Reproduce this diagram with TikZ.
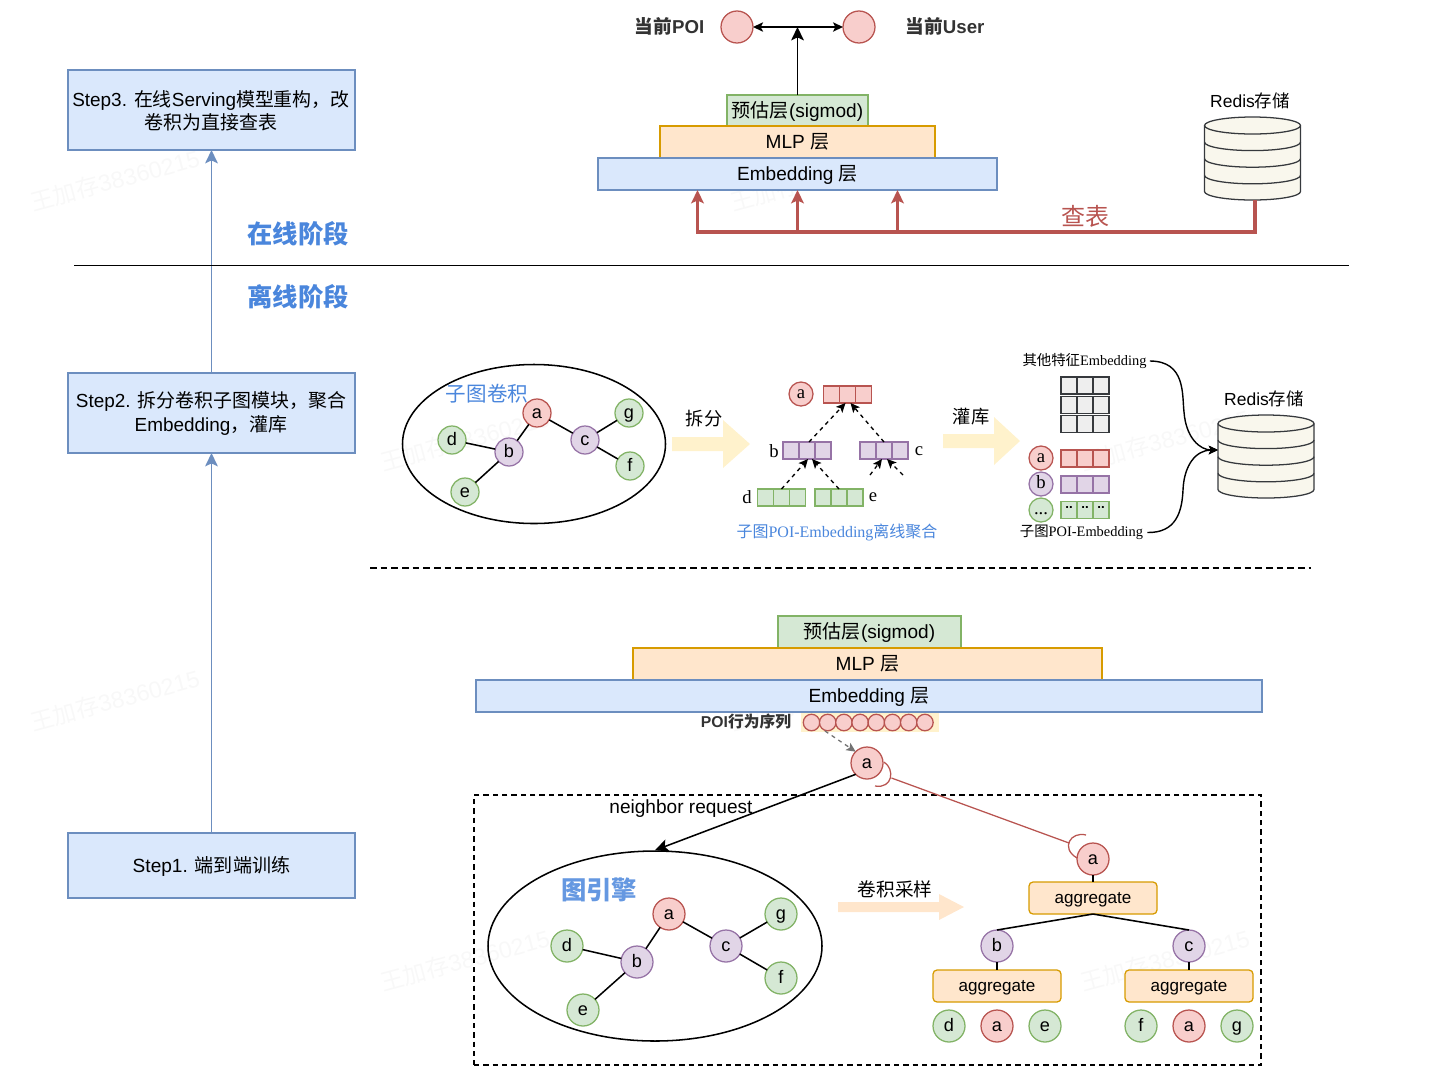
\documentclass[tikz,border=0pt]{standalone}
\usepackage{fontspec}
\usetikzlibrary{arrows.meta,calc,shapes.geometric}
\setmainfont{Liberation Sans}
\newfontfamily\cjkf{Noto Sans CJK SC}
\newfontfamily\lserif{Liberation Serif}
\newcommand\cn[1]{{\cjkf #1}}
\definecolor{bluef}{HTML}{DAE8FC}\definecolor{bluel}{HTML}{6C8EBF}
\definecolor{greenf}{HTML}{D5E8D4}\definecolor{greenl}{HTML}{82B366}
\definecolor{orangef}{HTML}{FFE6CC}\definecolor{orangel}{HTML}{D79B00}
\definecolor{redf}{HTML}{F8CECC}\definecolor{redl}{HTML}{B85450}
\definecolor{purpf}{HTML}{E1D5E7}\definecolor{purpl}{HTML}{9673A6}
\definecolor{yelf}{HTML}{FFF2CC}
\definecolor{dbf}{HTML}{F9F7ED}\definecolor{dbl}{HTML}{36393D}
\definecolor{greyf}{HTML}{EEEEEE}
\definecolor{headblue}{HTML}{4A86DC}
\definecolor{wm}{HTML}{F8F8F8}
\definecolor{darktxt}{HTML}{333333}
\tikzset{
 wh/.style 2 args={minimum width=#1*0.75pt,minimum height=#2*0.75pt},
 lw/.style={line width=0.95pt},
 boxed/.style={rectangle,draw,lw,inner sep=0pt,outer sep=0pt,align=center,text height=12.2pt,text depth=2.4pt,font=\fontsize{14.3}{17.3}\selectfont},
 bluebox/.style={boxed,draw=bluel,fill=bluef},
 greenbox/.style={boxed,draw=greenl,fill=greenf},
 orangebox/.style={boxed,draw=orangel,fill=orangef},
 aggbox/.style={orangebox,rounded corners=3pt,text height=10.5pt,font=\fontsize{12.8}{15}\selectfont},
 dot/.style={circle,draw,lw,inner sep=0pt,outer sep=0pt,minimum size=#1*0.75pt,text height=10.4pt,text depth=2pt,font=\fontsize{13.6}{15}\selectfont},
 dot/.default=28,
 reddot/.style={dot=#1,draw=redl,fill=redf},
 greendot/.style={dot=#1,draw=greenl,fill=greenf},
 purpdot/.style={dot=#1,draw=purpl,fill=purpf},
 reddot/.default=32,greendot/.default=32,purpdot/.default=32,
 tip/.style={-{Stealth[length=10pt,width=9.5pt,inset=2.2pt]}},
 sharp/.style={{Stealth[length=7.5pt,width=7pt,inset=1.7pt]}-{Stealth[length=7.5pt,width=7pt,inset=1.7pt]}},
 smalltip/.style={-{Stealth[length=7pt,width=6.5pt,inset=1.6pt]}},
 edge/.style={line width=1.15pt,black},
 lab/.style={inner sep=0pt,outer sep=0pt,align=center,font=\fontsize{13.1}{17.3}\selectfont},
 bigtxt/.style={lab,font=\fontsize{14.2}{17.3}\selectfont},
 head/.style={inner sep=0pt,font=\fontsize{19}{22}\selectfont\bfseries,text=headblue},
 slab/.style={inner sep=0pt,font=\fontsize{10.8}{12}\selectfont\lserif},
 let/.style={inner sep=0pt,font=\fontsize{14}{16}\selectfont\lserif},
 wmname/.style={inner sep=0pt,text=wm,rotate=15,font=\fontsize{17.5}{20}\selectfont},
 serifdot/.style={text height=8pt,text depth=1pt,font=\fontsize{14}{16}\selectfont\lserif},
}
\newcommand\cellbar[5]{%
 \node[rectangle,draw=#5,fill=#4,lw,wh={48}{17},inner sep=0pt,outer sep=0pt] (#1) at (#2,#3) {};
 \draw[#5,lw] (#2-8,#3-8.5) -- (#2-8,#3+8.5) (#2+8,#3-8.5) -- (#2+8,#3+8.5);}
\newcommand\dbshape[3]{% name, cx, top
 \node[inner sep=0pt,outer sep=0pt,wh={96}{83}] (#1) at (#2,#3+41.5) {};
 \draw[dbl,fill=dbf,lw] (#2-48,#3+8.5) arc[start angle=180,end angle=0,x radius=48*0.75pt,y radius=8.5*0.75pt]
   -- (#2+48,#3+74.5) arc[start angle=0,end angle=-180,x radius=48*0.75pt,y radius=8.5*0.75pt] -- cycle;
 \foreach \yy in {8.5,25.1,41.7,58.3}{
 \draw[dbl,lw] (#2-48,#3+\yy) arc[start angle=180,end angle=360,x radius=48*0.75pt,y radius=8.5*0.75pt];}
}
\begin{document}
\begin{tikzpicture}[x=0.75pt,y=-0.75pt]
\useasboundingbox (0,0) rectangle (1434,1090);
% watermarks
\foreach \wx/\wy in {115/180,115/700,465/440,465/960,815/180,815/700,1165/440,1165/960}
  \node[wmname] (w\wx\wy) at (\wx,\wy) {\cn{王加存}38360215};
% left steps
\node[bluebox,wh={287}{80}] (s3) at (211.5,110) {};
\node[bigtxt] (s3t) at (211,110.5) {Step3. \cn{在线}Serving\cn{模型重构，改}\\\cn{卷积为直接查表}};
\node[bluebox,wh={287}{80}] (s2) at (211.5,413) {};
\node[bigtxt] (s2t) at (211,413.5) {Step2. \cn{拆分卷积子图模块，聚合}\\Embedding\cn{，灌库}};
\node[bluebox,wh={287}{65}] (s1) at (211.5,865.5) {Step1. \cn{端到端训练}};
\draw[bluel,line width=1.3pt,tip] (s1.north) -- (s2.south);
\draw[bluel,line width=1.3pt,tip] (s2.north) -- (s3.south);
% phase line
\coordinate (pl) at (74,265.5); \coordinate (pr) at (1349,265.5);
\draw[black,line width=1.3pt] (pl) -- (pr);
\node[head] (h1) at (298,234) {\cn{在线阶段}};
\node[head] (h2) at (298,297) {\cn{离线阶段}};
% top stack
\node[greenbox,wh={141}{31}] (p1) at (797.5,110.5) {\cn{预估层}(sigmod)};
\node[orangebox,wh={275}{32}] (m1) at (797.5,142) {MLP \cn{层}};
\node[bluebox,wh={399}{32}] (e1) at (797.5,174) {Embedding \cn{层}};
\node[reddot] (poi) at (737,27) {};
\node[reddot] (usr) at (859,27) {};
\node[inner sep=0pt,text=darktxt,font=\fontsize{14}{16}\selectfont\bfseries] (tp) at (669.5,26.5) {\cn{当前}POI};
\node[inner sep=0pt,text=darktxt,font=\fontsize{14}{16}\selectfont\bfseries] (tu) at (945,26.5) {\cn{当前}User};
\coordinate (pm) at (797.5,27);
\draw[black,line width=1.15pt,sharp] (poi.east) -- (usr.west);
\draw[black,line width=1.3pt,tip] (p1.north) -- (pm);
% redis top
\dbshape{dbA}{1252.5}{117}
\node[lab] (ra) at (1250,101) {Redis\cn{存储}};
\coordinate (rb) at (1255,200);
\coordinate (rc) at (1255,232);
\coordinate (e1a) at (697.5,190); \coordinate (e1c) at (897.5,190);
\draw[redl,line width=2.4pt,tip] (rb) -- (rc) -| (e1a);
\draw[redl,line width=2.4pt,tip] (rc) -| (e1.south);
\draw[redl,line width=2.4pt,tip] (rc) -| (e1c);
\node[inner sep=0pt,text=redl,font=\fontsize{18}{20}\selectfont] (ct) at (1085,216) {\cn{查表}};
% subgraph
\node[ellipse,draw,black,line width=1.15pt,minimum width=263*0.75pt,minimum height=159*0.75pt,inner sep=0pt] (gs) at (534,444) {};
\node[reddot=28] (ga) at (537,413) {a};
\node[greendot=28] (gd) at (452,440) {d};
\node[purpdot=28] (gb) at (509,452) {b};
\node[purpdot=28] (gc) at (585,440) {c};
\node[greendot=28] (gg) at (629,413) {g};
\node[greendot=28] (gf) at (630,466) {f};
\node[greendot=28] (ge) at (465,492) {e};
\foreach \a/\b in {ga/gb,ga/gc,gb/gd,gb/ge,gc/gg,gc/gf} \draw[edge] (\a) -- (\b);
\node[inner sep=0pt,text=headblue,font=\fontsize{15.4}{17}\selectfont] (gt) at (487,394) {\cn{子图卷积}};
% arrows
\fill[yelf] (672,437) -- (723,437) -- (723,420) -- (750,444) -- (723,468) -- (723,451) -- (672,451) -- cycle;
\fill[yelf] (943,434) -- (994,434) -- (994,417) -- (1020,441) -- (994,465) -- (994,448) -- (943,448) -- cycle;
\node[lab,font=\fontsize{13.7}{17}\selectfont] (t1) at (704,419) {\cn{拆分}};
\node[lab,font=\fontsize{13.7}{17}\selectfont] (t2) at (971,417) {\cn{灌库}};
% tree of bars
\node[reddot=24,serifdot] (da) at (801,394) {a};
\cellbar{ba}{847.5}{394.5}{redf}{redl}
\node[let] (lb) at (774,451) {b};
\cellbar{bb}{807}{450.5}{purpf}{purpl}
\cellbar{bc}{884}{450.5}{purpf}{purpl}
\node[let] (lc) at (919,451) {c};
\node[let] (ld) at (747,497) {d};
\cellbar{bd}{781.5}{497.5}{greenf}{greenl}
\cellbar{be}{839}{497.5}{greenf}{greenl}
\node[let] (le) at (873,497) {e};
\tikzset{dtip/.style={black,line width=1pt,dashed,smalltip}}
\draw[dtip] ($(bb.north)+(2,0)$) -- ($(ba.south)+(-2,0)$);
\draw[dtip] ($(bc.north)+(0,0)$) -- ($(ba.south)+(3,0)$);
\draw[dtip] ($(bd.north)+(0,0)$) -- ($(bb.south)+(1,0)$);
\draw[dtip] ($(be.north)+(0,0)$) -- ($(bb.south)+(5,0)$);
\coordinate (cl) at (870,475); \coordinate (cr) at (903,475);
\draw[dtip] (cl) -- ($(bc.south)+(-2,0)$);
\draw[dtip] (cr) -- ($(bc.south)+(3,0)$);
\node[inner sep=0pt,text=headblue,font=\fontsize{12}{14}\selectfont\lserif] (bt) at (837,532) {\cn{子图}POI-Embedding\cn{离线聚合}};
% right store
\node[slab] (oth) at (1084.5,361) {\cn{其他特征}Embedding};
\cellbar{g1}{1085}{385.5}{greyf}{dbl}
\cellbar{g2}{1085}{405}{greyf}{dbl}
\cellbar{g3}{1085}{424}{greyf}{dbl}
\node[reddot=24,serifdot] (ra1) at (1041,458) {a};
\node[purpdot=24,serifdot] (rb1) at (1041,484) {b};
\node[greendot=24,serifdot] (re1) at (1041,510) {...};
\cellbar{x1}{1085}{458.5}{redf}{redl}
\cellbar{x2}{1085}{484.5}{purpf}{purpl}
\cellbar{x3}{1085}{510}{greenf}{greenl}
\foreach \cx in {1069,1085,1101} \node[inner sep=0pt,font=\fontsize{10}{10}\selectfont\bfseries] (dd\cx) at (\cx,507) {..};
\node[slab] (sub) at (1081.5,532.5) {\cn{子图}POI-Embedding};
\dbshape{dbB}{1266}{415}
\node[lab] (rbt) at (1264,399) {Redis\cn{存储}};
\coordinate (dbin) at (1218,450);
\draw[black,line width=1.05pt,smalltip] ($(oth.east)+(3,0)$) .. controls (1186,361) and (1182,395) .. (1184,412) .. controls (1186,438) and (1200,450) .. (dbin);
\draw[black,line width=1.05pt,smalltip] ($(sub.east)+(4,0)$) .. controls (1176,533) and (1182,512) .. (1183,490) .. controls (1184,465) and (1196,450) .. (dbin);
% dashed separator
\coordinate (sl) at (370,568); \coordinate (sr) at (1311,568);
\draw[black,line width=0.95pt,dashed,dash pattern=on 5pt off 3pt] (sl) -- (sr);
% bottom stack
\node[greenbox,wh={183}{32}] (p2) at (869.5,632) {\cn{预估层}(sigmod)};
\node[orangebox,wh={469}{32}] (m2) at (867.5,664) {MLP \cn{层}};
\node[bluebox,wh={786}{32}] (e2) at (869,696) {Embedding \cn{层}};
\node[inner sep=0pt,text=darktxt,font=\fontsize{11.8}{13}\selectfont\bfseries] (poiseq) at (746,721.5) {POI\cn{行为序列}};
\node[rectangle,fill=yelf,wh={138}{19},inner sep=0pt,outer sep=0pt] (sq) at (870,722.5) {};
\foreach \i in {0,...,7} \node[reddot=16.5] (q\i) at (811.5+16.2*\i,722.5) {};
\node[reddot] (na) at (867,763) {a};
\coordinate (qs) at (825,731);
\draw[gray!90!black,line width=0.95pt,dashed,smalltip] (qs) -- (na.north west);
% dashed box
\node[rectangle,draw=black,line width=0.95pt,dashed,dash pattern=on 4pt off 3pt,wh={787}{270},inner sep=0pt] (gbx) at (867.5,930) {};
\node[lab,font=\fontsize{14.3}{17.5}\selectfont] (nr) at (681,809) {neighbor request};
\node[ellipse,draw,black,line width=1.15pt,minimum width=334*0.75pt,minimum height=190*0.75pt,inner sep=0pt] (ge2) at (655,946) {};
\draw[black,line width=1.15pt,tip] (na.south west) -- (ge2.north);
\node[inner sep=0pt,text=headblue!85!white,font=\fontsize{19}{22}\selectfont\bfseries] (get) at (599,890) {\cn{图引擎}};
\node[reddot] (ha) at (669,914) {a};
\node[greendot] (hd) at (567,946) {d};
\node[purpdot] (hb) at (637,962) {b};
\node[purpdot] (hc) at (726,946) {c};
\node[greendot] (hg) at (781,914) {g};
\node[greendot] (hf) at (781,978) {f};
\node[greendot] (he) at (583,1010) {e};
\foreach \a/\b in {ha/hb,ha/hc,hb/hd,hb/he,hc/hg,hc/hf} \draw[edge] (\a) -- (\b);
\fill[orangef] (838,902) -- (939,902) -- (939,894) -- (964,907) -- (939,920) -- (939,912) -- (838,912) -- cycle;
\node[lab,font=\fontsize{14}{17}\selectfont] (jj) at (895,889) {\cn{卷积采样}};
% tree
\node[reddot] (ta) at (1093,859) {a};
\node[aggbox,wh={128}{32}] (ag1) at (1093,898) {aggregate};
\node[purpdot] (tb) at (997,946) {b};
\node[purpdot] (tc) at (1189,946) {c};
\node[aggbox,wh={128}{32}] (ag2) at (997,986) {aggregate};
\node[aggbox,wh={128}{32}] (ag3) at (1189,986) {aggregate};
\node[greendot] (l1) at (949,1026) {d};
\node[reddot] (l2) at (997,1026) {a};
\node[greendot] (l3) at (1045,1026) {e};
\node[greendot] (l4) at (1141,1026) {f};
\node[reddot] (l5) at (1189,1026) {a};
\node[greendot] (l6) at (1237,1026) {g};
\draw[edge] (ta) -- (ag1);
\draw[edge] (ag1.south) -- (tb.north);
\draw[edge] (ag1.south) -- (tc.north);
\draw[edge] (tb) -- (ag2);
\draw[edge] (tc) -- (ag3);
% red link with arcs
\coordinate (la) at (891.5,778); \coordinate (lb2) at (1069,843);
\draw[redl,line width=0.95pt] (la) -- (lb2);
\coordinate (a1s) at (884,762); \coordinate (a1e) at (875,786);
\coordinate (a2s) at (1086,835); \coordinate (a2e) at (1077,858);
\draw[redl,line width=0.95pt] (a1s) .. controls (895,769) and (893,789) .. (a1e);
\draw[redl,line width=0.95pt] (a2s) .. controls (1071,831) and (1060,848) .. (a2e);
\end{tikzpicture}
\end{document}
